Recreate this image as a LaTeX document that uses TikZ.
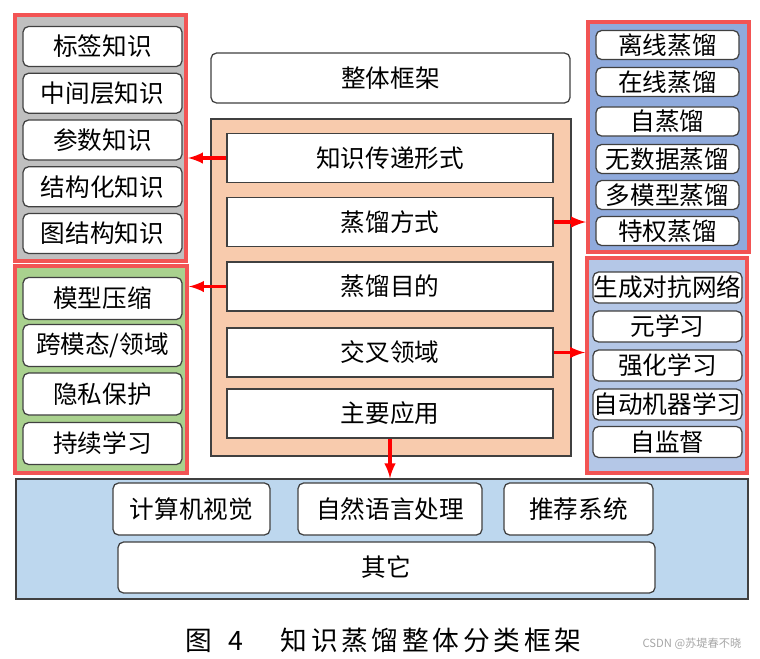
\documentclass[tikz,border=0pt]{standalone}
\usepackage{fontspec}
\setmainfont{Noto Sans CJK SC}
\newfontfamily\capfont[LetterSpace=14]{Noto Sans CJK SC}
\usepackage{tikz}
\usetikzlibrary{arrows, math}

\definecolor{grpred}{RGB}{242,84,84}
\definecolor{boxline}{RGB}{64,64,64}
\definecolor{grpgray}{RGB}{191,191,191}
\definecolor{grpgreen}{RGB}{169,209,142}
\definecolor{grpblue}{RGB}{143,170,220}
\definecolor{grpltblue}{RGB}{180,199,231}
\definecolor{appblue}{RGB}{189,215,238}
\definecolor{midorange}{RGB}{248,203,173}

\begin{document}
\begin{tikzpicture}[x=0.025cm, y=-0.025cm,
    grpframe/.style={draw=grpred, line width=2.8pt},
    roundbox/.style={draw=boxline, fill=white, line width=0.9pt, rounded corners=4pt, inner sep=0pt, font=\fontsize{17.5}{20}\selectfont},
    squarebox/.style={draw=boxline, fill=white, line width=0.9pt, inner sep=0pt, font=\fontsize{17.5}{20}\selectfont},
    redarrow/.style={-latex, draw=red, line width=2.6pt}]
    \tikzmath{\xL = 102.5; \xM = 390; \xR = 667.5; \yCap = 640;}
    \useasboundingbox (0,0) rectangle (760,658);

    % left: knowledge forms
    \node[grpframe, fill=grpgray, minimum width=4.275cm, minimum height=6.15cm](know-grp) at (100.5,138) {};
    \node[roundbox, minimum width=3.975cm, minimum height=1.0cm](label-know) at (\xL,46.5) {标签知识};
    \node[roundbox, minimum width=3.975cm, minimum height=1.0cm](mid-know) at (\xL,93.25) {中间层知识};
    \node[roundbox, minimum width=3.975cm, minimum height=1.0cm](param-know) at (\xL,140) {参数知识};
    \node[roundbox, minimum width=3.975cm, minimum height=1.0cm](struct-know) at (\xL,186.75) {结构化知识};
    \node[roundbox, minimum width=3.975cm, minimum height=1.0cm](graph-know) at (\xL,233.5) {图结构知识};

    % left: purposes
    \node[grpframe, fill=grpgreen, minimum width=4.3cm, minimum height=5.175cm](aim-grp) at (101,369.5) {};
    \node[roundbox, minimum width=3.975cm, minimum height=1.05cm](compress) at (\xL,298.5) {模型压缩};
    \node[roundbox, minimum width=3.975cm, minimum height=1.05cm](cross-mod) at (\xL,345.5) {跨模态/领域};
    \node[roundbox, minimum width=3.975cm, minimum height=1.05cm](privacy) at (\xL,394) {隐私保护};
    \node[roundbox, minimum width=3.975cm, minimum height=1.05cm](lifelong) at (\xL,443.5) {持续学习};

    % right: distillation modes
    \node[grpframe, fill=grpblue, minimum width=4.025cm, minimum height=5.75cm](mode-grp) at (668.5,137) {};
    \node[roundbox, minimum width=3.575cm, minimum height=0.725cm](offline) at (\xR,45) {离线蒸馏};
    \node[roundbox, minimum width=3.575cm, minimum height=0.725cm](online) at (\xR,82) {在线蒸馏};
    \node[roundbox, minimum width=3.575cm, minimum height=0.725cm](self-dist) at (\xR,121.5) {自蒸馏};
    \node[roundbox, minimum width=3.575cm, minimum height=0.725cm](data-free) at (\xR,159) {无数据蒸馏};
    \node[roundbox, minimum width=3.575cm, minimum height=0.725cm](multi-model) at (\xR,195) {多模型蒸馏};
    \node[roundbox, minimum width=3.575cm, minimum height=0.725cm](privileged) at (\xR,231) {特权蒸馏};

    % right: crossed fields
    \node[grpframe, fill=grpltblue, minimum width=4cm, minimum height=5.375cm](cross-grp) at (667,365.5) {};
    \node[roundbox, minimum width=3.725cm, minimum height=0.775cm](gan) at (\xR,287.5) {生成对抗网络};
    \node[roundbox, minimum width=3.725cm, minimum height=0.775cm](meta) at (\xR,326.5) {元学习};
    \node[roundbox, minimum width=3.725cm, minimum height=0.775cm](rl) at (\xR,365.5) {强化学习};
    \node[roundbox, minimum width=3.725cm, minimum height=0.775cm](automl) at (\xR,404.5) {自动机器学习};
    \node[roundbox, minimum width=3.725cm, minimum height=0.775cm](self-sup) at (\xR,442) {自监督};

    % middle
    \node[roundbox, minimum width=8.975cm, minimum height=1.25cm](overall) at (390.5,78) {整体框架};
    \node[draw=boxline, line width=0.9pt, fill=midorange, minimum width=9cm, minimum height=8.425cm](mid-grp) at (391,287.5) {};
    \node[squarebox, minimum width=8.15cm, minimum height=1.225cm](know-form) at (\xM,158) {知识传递形式};
    \node[squarebox, minimum width=8.15cm, minimum height=1.225cm](dist-mode) at (\xM,222) {蒸馏方式};
    \node[squarebox, minimum width=8.15cm, minimum height=1.225cm](dist-aim) at (\xM,286.5) {蒸馏目的};
    \node[squarebox, minimum width=8.15cm, minimum height=1.225cm](cross-field) at (\xM,352.5) {交叉领域};
    \node[squarebox, minimum width=8.15cm, minimum height=1.225cm](main-app) at (\xM,413.5) {主要应用};

    % bottom: applications
    \node[draw=boxline, line width=0.9pt, fill=appblue, minimum width=18.3cm, minimum height=3cm](app-grp) at (382,539) {};
    \node[roundbox, minimum width=3.925cm, minimum height=1.3cm](cv) at (191.5,509) {计算机视觉};
    \node[roundbox, minimum width=4.6cm, minimum height=1.3cm](nlp) at (390,509) {自然语言处理};
    \node[roundbox, minimum width=3.725cm, minimum height=1.3cm](recsys) at (578.5,509) {推荐系统};
    \node[roundbox, minimum width=13.425cm, minimum height=1.275cm](others) at (386.5,567.5) {其它};

    \node[font=\capfont\fontsize{19}{22}\selectfont](caption) at (383.5,\yCap) {图\hspace{0.6em}4\hspace{1.4em}知识蒸馏整体分类框架};
    \node[font=\fontsize{8}{10}\selectfont, text=black!35](mark) at (692,644) {CSDN @苏堤春不晓};

    \draw[redarrow] (know-form.west) -- (know-form.west -| know-grp.east);
    \draw[redarrow] (dist-aim.west) -- (dist-aim.west -| aim-grp.east);
    \draw[redarrow] (dist-mode.east) -- (dist-mode.east -| mode-grp.west);
    \draw[redarrow] (cross-field.east) -- (cross-field.east -| cross-grp.west);
    \draw[redarrow] (main-app.south) -- (main-app.south |- app-grp.north);
\end{tikzpicture}
\end{document}
